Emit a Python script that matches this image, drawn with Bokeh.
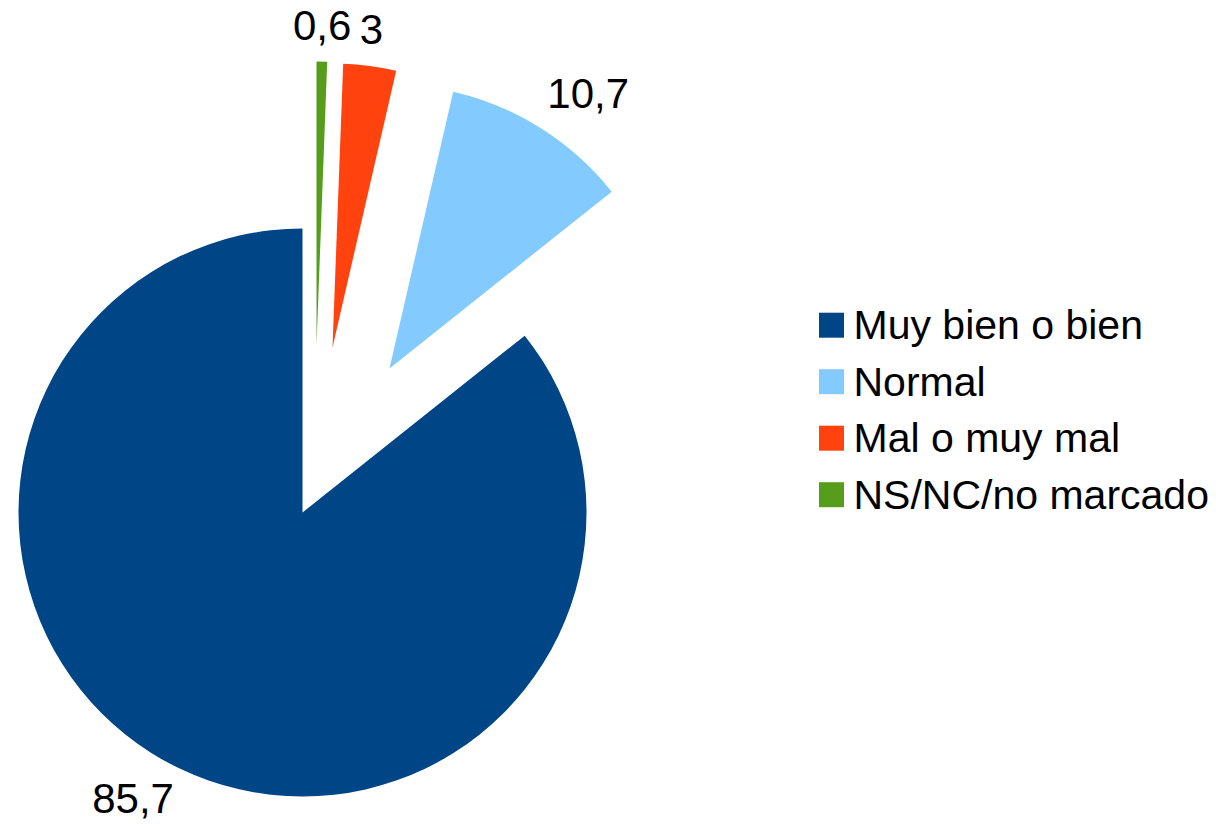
import math
from bokeh.plotting import figure
from bokeh.models import Range1d, ColumnDataSource
from bokeh.core.properties import value
from bokeh.embed import file_html
from bokeh.resources import INLINE

# ---- data ----
categories = ["Muy bien o bien", "Normal", "Mal o muy mal", "NS/NC/no marcado"]
values = [85.7, 10.7, 3, 0.6]
colors = ["#004586", "#83caff", "#ff420e", "#579d1c"]


def fmt(v):
    s = ("%g" % v)
    return s.replace(".", ",")


labels = [fmt(v) for v in values]

# ---- layout (screen-sized, 1:1 data units) ----
W, H = 1216, 824
cx, cy = 302, 312
R = 284
explode_dx = [0, 87, 30, 14]
explode_dy = [0, 144, 165, 167]
label_pad = 12
label_nudge_up = 10
label_nudge_down = 5
FONT = value("Liberation Sans")
FSIZE = "42px"
LEG_FSIZE = "41px"

p = figure(width=W, height=H, x_range=Range1d(0, W), y_range=Range1d(0, H),
           output_backend="svg", toolbar_location=None, min_border=0,
           x_axis_type=None, y_axis_type=None)
p.grid.visible = False
p.outline_line_color = None
p.background_fill_color = "white"

total = sum(values)
starts, ends, xs, ys = [], [], [], []
lx, ly, la, lb = [], [], [], []
acc = 0.0
for i, v in enumerate(values):
    s = 90 + 360 * acc / total
    e = s + 360 * v / total
    acc += v
    starts.append(math.radians(s))
    ends.append(math.radians(e))
    x0 = cx + explode_dx[i]
    y0 = cy + explode_dy[i]
    xs.append(x0)
    ys.append(y0)
    m = math.radians((s + e) / 2)
    dx, dy = math.cos(m), math.sin(m)
    lx.append(x0 + (R + label_pad) * dx)
    ly.append(y0 + (R + label_pad) * dy
              + (label_nudge_up if dy > 0 else -label_nudge_down))
    la.append("center" if abs(dx) < 0.3 else ("left" if dx > 0 else "right"))
    lb.append("bottom" if dy > 0 else "top")

src = ColumnDataSource(dict(x=xs, y=ys, start=starts, end=ends, color=colors,
                            cat=categories))
p.wedge(x="x", y="y", radius=R, start_angle="start", end_angle="end",
        direction="anticlock", fill_color="color",
        line_color=None, source=src)

for i in range(len(values)):
    p.text(x=[lx[i]], y=[ly[i]], text=[labels[i]], text_font=FONT,
           text_font_size=FSIZE, text_color="black", text_align=la[i],
           text_baseline=lb[i])

# ---- legend (manual) ----
leg_x = 831
leg_y0 = 499.3
leg_step = 56.5
leg_size = 25
ly_list = [leg_y0 - k * leg_step for k in range(len(categories))]
p.rect(x=[leg_x] * len(categories), y=ly_list, width=leg_size, height=leg_size,
       fill_color=colors, line_color=None)
p.text(x=[leg_x + 22] * len(categories), y=ly_list,
       text=categories, text_font=FONT, text_font_size=LEG_FSIZE,
       text_color="black", text_align="left", text_baseline="middle")

open("out.html", "w").write(file_html(p, INLINE))
